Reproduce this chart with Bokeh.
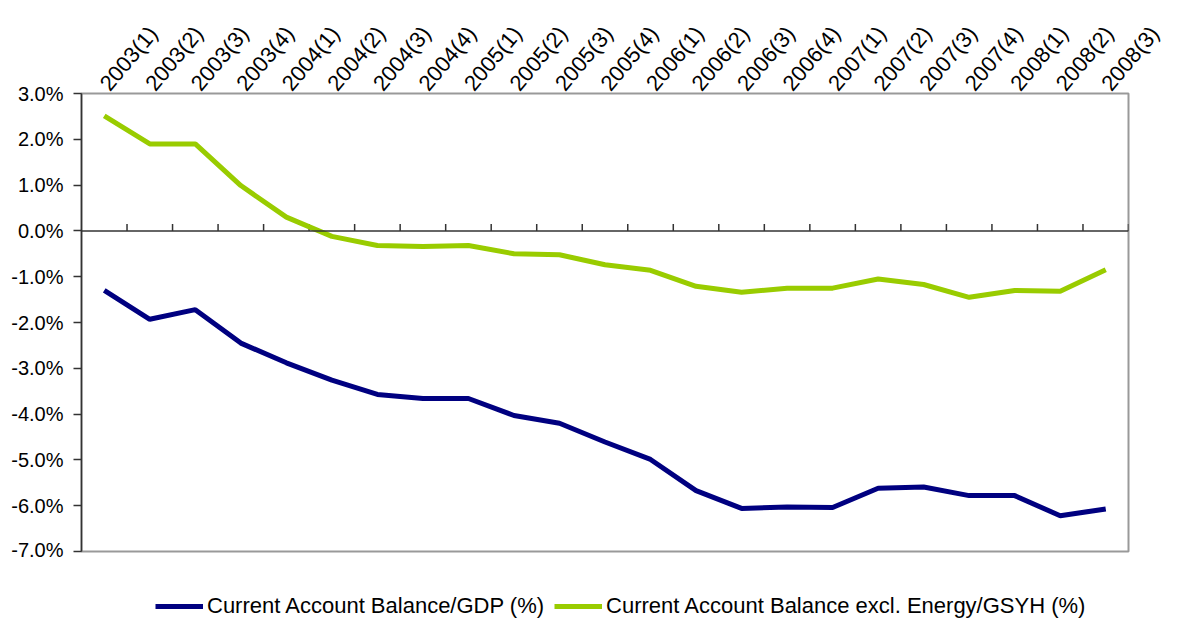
import math
from bokeh.plotting import figure
from bokeh.layouts import column
from bokeh.models import (Range1d, FixedTicker, PrintfTickFormatter, Span,
                          Legend, LegendItem, ColumnDataSource)
from bokeh.embed import file_html
from bokeh.resources import INLINE

categories = ["2003(1)", "2003(2)", "2003(3)", "2003(4)",
              "2004(1)", "2004(2)", "2004(3)", "2004(4)",
              "2005(1)", "2005(2)", "2005(3)", "2005(4)",
              "2006(1)", "2006(2)", "2006(3)", "2006(4)",
              "2007(1)", "2007(2)", "2007(3)", "2007(4)",
              "2008(1)", "2008(2)", "2008(3)"]

ca_gdp = [-1.30, -1.93, -1.72, -2.45, -2.88, -3.26, -3.57, -3.66, -3.66,
          -4.03, -4.20, -4.61, -4.99, -5.67, -6.06, -6.03, -6.04, -5.62,
          -5.59, -5.78, -5.78, -6.22, -6.07]

ca_excl = [2.51, 1.90, 1.90, 0.99, 0.30, -0.12, -0.32, -0.34, -0.32,
           -0.50, -0.52, -0.74, -0.86, -1.21, -1.34, -1.25, -1.25, -1.05,
           -1.17, -1.45, -1.30, -1.32, -0.85]

series_names = ["Current Account Balance/GDP (%)",
                "Current Account Balance excl. Energy/GSYH (%)"]
series_colors = ["#000080", "#99CC00"]

y_ticks = [3, 2, 1, 0, -1, -2, -3, -4, -5, -6, -7]

FONT = "Liberation Sans"
n = len(categories)
xs = [i + 0.5 for i in range(n)]
src = ColumnDataSource(dict(x=xs, gdp=ca_gdp, excl=ca_excl, cat=categories))

p = figure(width=1181, height=560, output_backend="svg", toolbar_location=None,
           x_range=Range1d(0, n), y_range=Range1d(-7, 3),
           x_axis_location="above",
           min_border_left=81, min_border_right=53,
           min_border_top=93, min_border_bottom=9)

p.background_fill_color = "white"
p.border_fill_color = "white"
p.outline_line_color = "#999999"
p.outline_line_width = 2
p.xgrid.visible = False
p.ygrid.visible = False

# top category axis
xa = p.xaxis[0]
xa.ticker = FixedTicker(ticks=xs)
xa.major_label_overrides = {x: c for x, c in zip(xs, categories)}
xa.major_label_orientation = math.radians(50)
xa.axis_line_color = None
xa.major_tick_line_color = None
xa.minor_tick_line_color = None
xa.major_label_standoff = 0
xa.major_label_text_font = FONT
xa.major_label_text_font_size = "22px"
xa.major_label_text_color = "black"

# left value axis
ya = p.yaxis[0]
ya.ticker = FixedTicker(ticks=y_ticks)
ya.formatter = PrintfTickFormatter(format="%.1f%%")
ya.axis_line_color = "#333333"
ya.axis_line_width = 1.5
ya.major_tick_line_color = "#333333"
ya.major_tick_line_width = 1.5
ya.major_tick_out = 8
ya.major_tick_in = 0
ya.minor_tick_line_color = None
ya.major_label_standoff = 10
ya.major_label_text_font = FONT
ya.major_label_text_font_size = "20px"
ya.major_label_text_color = "black"

# zero line with category boundary ticks
p.add_layout(Span(location=0, dimension="width", line_color="#333333", line_width=1.5))
bounds = list(range(1, n + 1))
p.segment(x0=bounds, y0=[0] * len(bounds), x1=bounds, y1=[0.15] * len(bounds),
          line_color="#333333", line_width=1.5)

p.line("x", "gdp", source=src, line_color=series_colors[0], line_width=5)
p.line("x", "excl", source=src, line_color=series_colors[1], line_width=5)

# legend strip below the chart (its lines lie outside its visible range)
lg = figure(width=1181, height=59, output_backend="svg", toolbar_location=None,
            x_range=Range1d(100, 101), y_range=Range1d(100, 101),
            min_border_left=0, min_border_right=0, min_border_top=0, min_border_bottom=0)
lg.axis.visible = False
lg.xgrid.visible = False
lg.ygrid.visible = False
lg.outline_line_color = None
lg.background_fill_color = "white"
lg.border_fill_color = "white"

items = []
for name, col, field in zip(series_names, series_colors, ["gdp", "excl"]):
    rr = lg.line("x", field, source=src, line_color=col, line_width=5)
    items.append(LegendItem(label=name, renderers=[rr]))

legend = Legend(items=items, orientation="horizontal", location=(74, 0),
                glyph_width=48, glyph_height=20, label_standoff=4, spacing=10,
                padding=0, margin=0, border_line_color=None,
                background_fill_alpha=0,
                label_text_font=FONT, label_text_font_size="22px",
                label_text_color="black")
lg.add_layout(legend, "center")

layout = column(p, lg, spacing=0)
open("out.html", "w").write(file_html(layout, INLINE))
